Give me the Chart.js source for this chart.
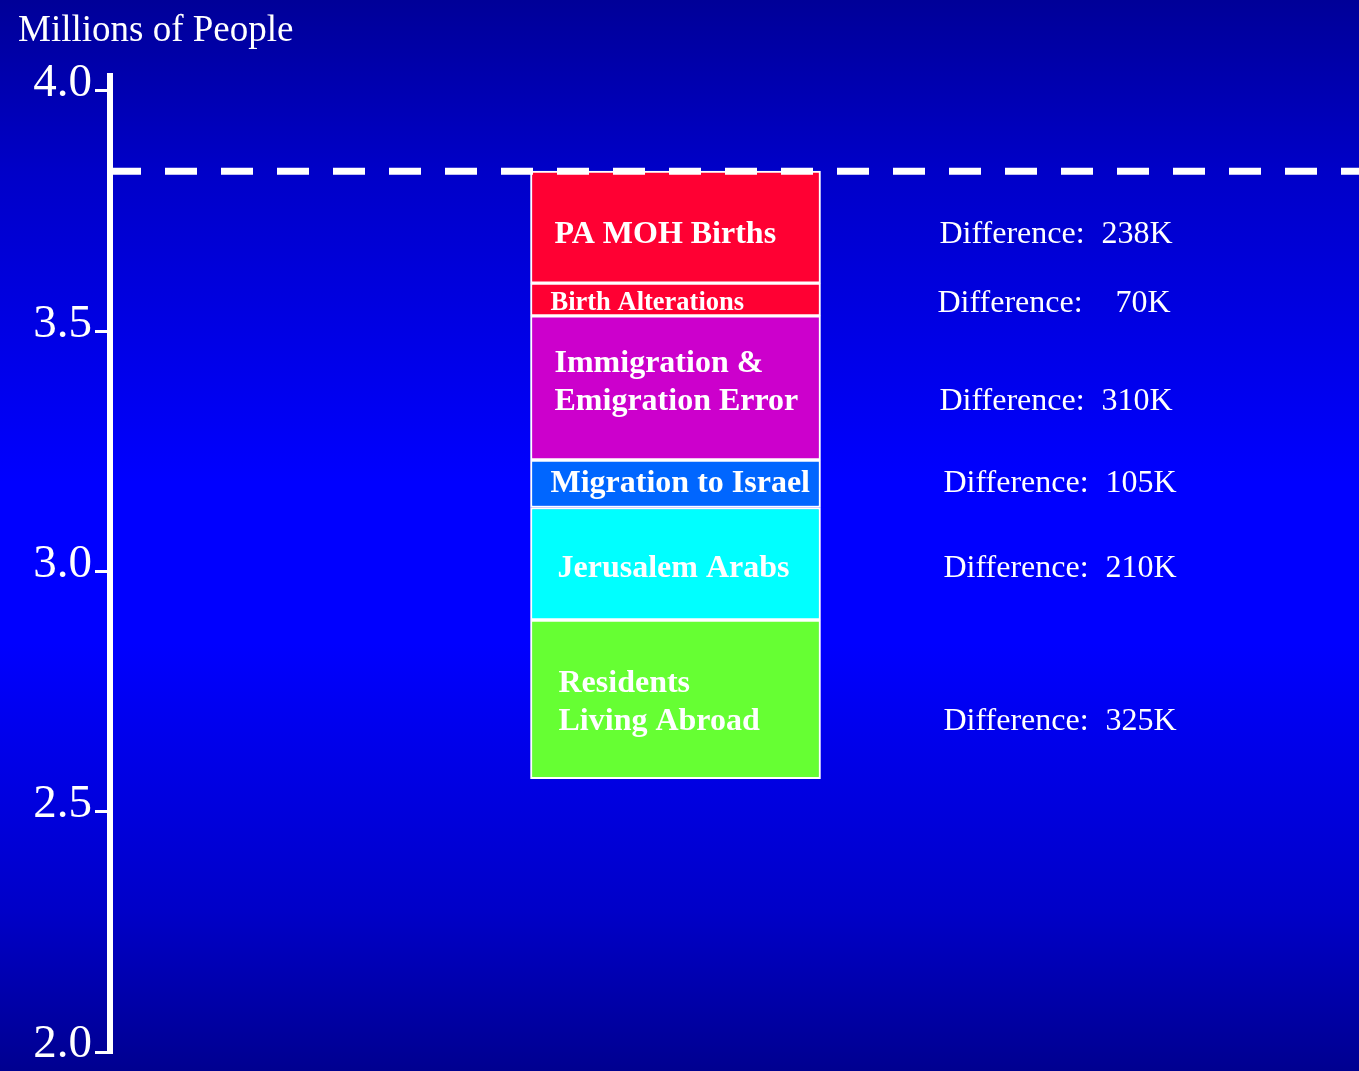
<!DOCTYPE html>
<html>
<head>
<meta charset="utf-8">
<script src="https://cdn.jsdelivr.net/npm/chart.js@4/dist/chart.umd.min.js"></script>
<style>
  html, body { margin: 0; padding: 0; }
  body {
    width: 1359px; height: 1071px; overflow: hidden;
    background: linear-gradient(to bottom, #000098 0%, #0000c8 16%, #0000ff 45%, #0000ff 60%, #0000c8 85%, #000090 100%);
  }
  #wrap { position: relative; width: 1359px; height: 1071px; }
</style>
</head>
<body>
<div id="wrap"><canvas id="c" width="1359" height="1071"></canvas></div>
<script>
// ---- data ----
const categories = ['Population'];
const segmentNames = ['PA MOH Births', 'Birth Alterations', 'Immigration & Emigration Error', 'Migration to Israel', 'Jerusalem Arabs', 'Residents Living Abroad'];
const segmentHigh = [3.833, 3.600, 3.532, 3.232, 3.133, 2.899];
const segmentLow  = [3.600, 3.532, 3.232, 3.133, 2.899, 2.569];
const differenceK = [238, 70, 310, 105, 210, 325];
const referenceLevel = 3.833;
const yTicks = [2.0, 2.5, 3.0, 3.5, 4.0];
const axisTitle = 'Millions of People';
const labelLines = [['PA MOH Births'], ['Birth Alterations'], ['Immigration &', 'Emigration Error'], ['Migration to Israel'], ['Jerusalem Arabs'], ['Residents', 'Living Abroad']];

// ---- styles ----
const FONT = "'Liberation Serif', 'Times New Roman', serif";
const segmentColors = ['#ff0033', '#ff0033', '#cc00cc', '#0066ff', '#00ffff', '#66ff33'];
const labelSizes = [32, 26.5, 32, 32, 32, 32];
const labelDx = [24, 20, 24, 20, 27, 28];
const labelDy = [5, 2, -7, -2, 2.5, 1];
const diffDx = [0, -2, 0, 4, 4, 4];

Chart.defaults.font.family = FONT;
Chart.defaults.color = '#ffffff';

const overlay = {
  id: 'overlay',
  afterDatasetsDraw(chart) {
    const ctx = chart.ctx;
    const ca = chart.chartArea;
    const y = chart.scales.y.getPixelForValue(referenceLevel);
    ctx.save();
    // dashed reference line
    ctx.strokeStyle = '#ffffff';
    ctx.lineWidth = 7;
    ctx.setLineDash([32, 24]);
    ctx.beginPath();
    ctx.moveTo(ca.left - 1, y);
    ctx.lineTo(chart.width, y);
    ctx.stroke();
    ctx.setLineDash([]);

    ctx.fillStyle = '#ffffff';
    chart.data.datasets.forEach((ds, i) => {
      const el = chart.getDatasetMeta(i).data[0];
      const top = Math.min(el.y, el.base), bot = Math.max(el.y, el.base);
      const left = el.x - el.width / 2, right = el.x + el.width / 2;
      const size = labelSizes[i];
      const lines = labelLines[i];
      const gap = 38;
      const cy = (top + bot) / 2 + labelDy[i];
      ctx.font = 'bold ' + size + 'px ' + FONT;
      ctx.textAlign = 'left';
      ctx.textBaseline = 'alphabetic';
      let lastBase = 0;
      lines.forEach((t, k) => {
        const mid = cy + (k - (lines.length - 1) / 2) * gap;
        const base = mid + 0.331 * size;
        ctx.fillText(t, left + labelDx[i], base);
        lastBase = mid + 0.331 * 32;
      });
      // difference text
      ctx.font = '32px ' + FONT;
      ctx.textAlign = 'left';
      ctx.fillText('Difference:', right + 119 + diffDx[i], lastBase);
      ctx.textAlign = 'right';
      ctx.fillText(differenceK[i] + 'K', right + 352 + diffDx[i], lastBase);
    });
    ctx.restore();
  },
  afterDraw(chart) {
    const ctx = chart.ctx;
    ctx.save();
    ctx.fillStyle = '#ffffff';
    ctx.font = '37px ' + FONT;
    ctx.textAlign = 'left';
    ctx.textBaseline = 'alphabetic';
    ctx.fillText(axisTitle, 18, 41);
    ctx.restore();
  }
};

new Chart(document.getElementById('c'), {
  type: 'bar',
  data: {
    labels: categories,
    datasets: segmentNames.map((n, i) => ({
      label: n,
      data: [[segmentLow[i], segmentHigh[i]]],
      backgroundColor: segmentColors[i],
      borderColor: '#ffffff',
      borderWidth: 2,
      borderSkipped: false,
      barThickness: 290
    }))
  },
  options: {
    responsive: false,
    animation: false,
    devicePixelRatio: 1,
    layout: { padding: { left: 0, top: 76, right: 118, bottom: 19 } },
    plugins: { legend: { display: false }, tooltip: { enabled: false }, title: { display: false } },
    scales: {
      x: { display: false, stacked: true },
      y: {
        min: 2.0,
        max: 4.031,
        afterBuildTicks: s => { s.ticks = yTicks.map(v => ({ value: v })); },
        afterFit: s => { s.width = 110; s.paddingTop = 0; s.paddingBottom = 0; },
        ticks: {
          color: '#ffffff',
          font: { size: 47, family: FONT },
          padding: 3,
          labelOffset: -7,
          callback: v => Number(v).toFixed(1)
        },
        grid: { drawOnChartArea: false, color: '#ffffff', tickLength: 15, tickWidth: 3, tickColor: '#ffffff', lineWidth: 3 },
        border: { display: true, color: '#ffffff', width: 6 }
      }
    }
  },
  plugins: [overlay]
});
</script>
</body>
</html>
